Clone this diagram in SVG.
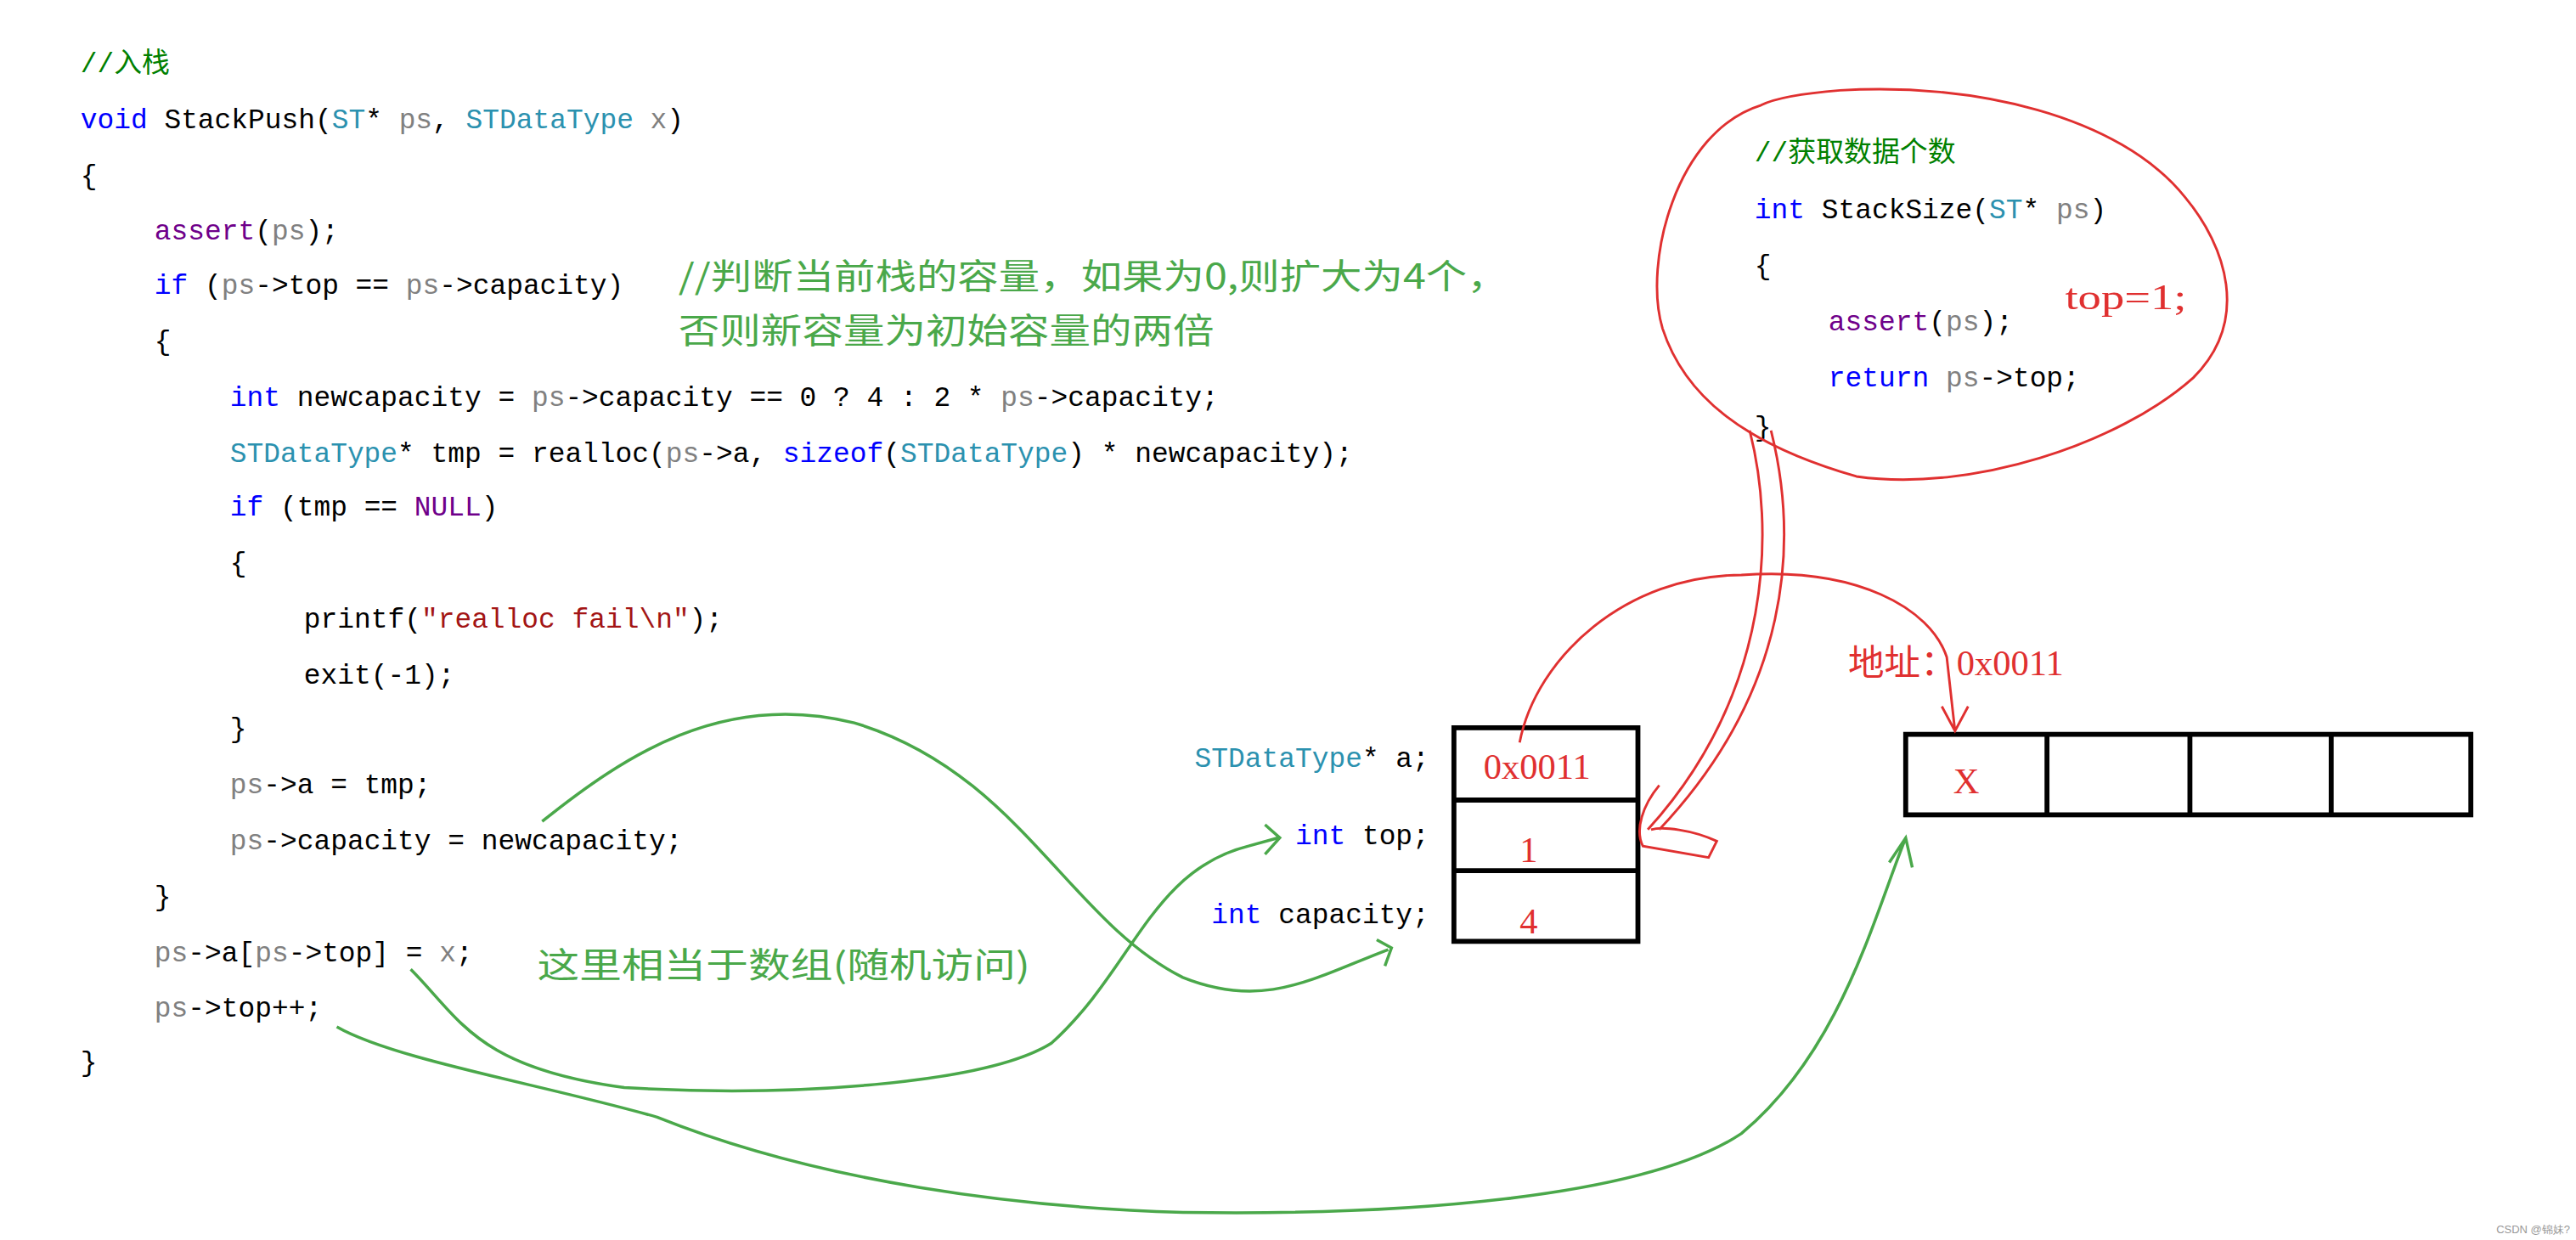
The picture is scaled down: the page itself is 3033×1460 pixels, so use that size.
<svg xmlns="http://www.w3.org/2000/svg" width="3033" height="1460" viewBox="0 0 3033 1460">
<style>
.c{font-family:"Liberation Mono","Noto Sans CJK SC",monospace;font-size:17px;fill:#000;white-space:pre}
.k{fill:#0000ff}.t{fill:#2b91af}.g{fill:#808080}.p{fill:#6f008a}.s{fill:#a31515}.cm{fill:#008000}
.cn{font-family:"Noto Sans CJK SC",sans-serif;font-size:21px;fill:#4aa84a}
.r{font-family:"Liberation Serif","Noto Sans CJK SC",serif;fill:#e03030}
.box{fill:none;stroke:#000;stroke-width:3}
.rl{fill:none;stroke:#e03030;stroke-width:1.5}
.gl{fill:none;stroke:#4aa84a;stroke-width:1.8}
</style>
<rect width="3033" height="1460" fill="#fff"/>
<g transform="scale(1.9343)">
<g id="code" class="c" xml:space="preserve">
<text x="49" y="44" class="cm">//入栈</text>
<text x="49" y="78"><tspan class="k">void</tspan> StackPush(<tspan class="t">ST</tspan>* <tspan class="g">ps</tspan>, <tspan class="t">STDataType</tspan> <tspan class="g">x</tspan>)</text>
<text x="49" y="112">{</text>
<text x="94" y="146"><tspan class="p">assert</tspan>(<tspan class="g">ps</tspan>);</text>
<text x="94" y="179"><tspan class="k">if</tspan> (<tspan class="g">ps</tspan>->top == <tspan class="g">ps</tspan>->capacity)</text>
<text x="94" y="213">{</text>
<text x="140" y="247"><tspan class="k">int</tspan> newcapacity = <tspan class="g">ps</tspan>->capacity == 0 ? 4 : 2 * <tspan class="g">ps</tspan>->capacity;</text>
<text x="140" y="281"><tspan class="t">STDataType</tspan>* tmp = realloc(<tspan class="g">ps</tspan>->a, <tspan class="k">sizeof</tspan>(<tspan class="t">STDataType</tspan>) * newcapacity);</text>
<text x="140" y="314"><tspan class="k">if</tspan> (tmp == <tspan class="p">NULL</tspan>)</text>
<text x="140" y="348">{</text>
<text x="185" y="382">printf(<tspan class="s">"realloc fail\n"</tspan>);</text>
<text x="185" y="416">exit(-1);</text>
<text x="140" y="449">}</text>
<text x="140" y="483"><tspan class="g">ps</tspan>->a = tmp;</text>
<text x="140" y="517"><tspan class="g">ps</tspan>->capacity = newcapacity;</text>
<text x="94" y="551">}</text>
<text x="94" y="585"><tspan class="g">ps</tspan>->a[<tspan class="g">ps</tspan>->top] = <tspan class="g">x</tspan>;</text>
<text x="94" y="619"><tspan class="g">ps</tspan>->top++;</text>
<text x="49" y="652">}</text>
</g>
<g id="comment1">
<text class="cn" x="413" y="176" textLength="505" lengthAdjust="spacingAndGlyphs">//判断当前栈的容量，如果为0,则扩大为4个，</text>
<text class="cn" x="413" y="209" textLength="326" lengthAdjust="spacingAndGlyphs">否则新容量为初始容量的两倍</text>
</g>
<g id="comment2"><text class="cn" x="327" y="595" textLength="300" lengthAdjust="spacingAndGlyphs">这里相当于数组(随机访问)</text></g>
<g id="stacksize" class="c" xml:space="preserve">
<text x="1068" y="98" class="cm">//获取数据个数</text>
<text x="1068" y="133"><tspan class="k">int</tspan> StackSize(<tspan class="t">ST</tspan>* <tspan class="g">ps</tspan>)</text>
<text x="1068" y="167">{</text>
<text x="1113" y="201"><tspan class="p">assert</tspan>(<tspan class="g">ps</tspan>);</text>
<text x="1113" y="235"><tspan class="k">return</tspan> <tspan class="g">ps</tspan>->top;</text>
<text x="1068" y="265">}</text>
<text class="r" x="1257" y="188" font-size="22" textLength="74" lengthAdjust="spacingAndGlyphs">top=1;</text>
</g>
<g id="struct">
<text class="c" x="870" y="467" text-anchor="end" xml:space="preserve"><tspan class="t">STDataType</tspan>* a;</text>
<text class="c" x="870" y="514" text-anchor="end" xml:space="preserve"><tspan class="k">int</tspan> top;</text>
<text class="c" x="870" y="562" text-anchor="end" xml:space="preserve"><tspan class="k">int</tspan> capacity;</text>
<rect class="box" x="885" y="443" width="112" height="130"/>
<line class="box" x1="885" y1="487" x2="997" y2="487"/>
<line class="box" x1="885" y1="530" x2="997" y2="530"/>
<text class="r" x="903" y="474" font-size="22">0x0011</text>
<text class="r" x="925" y="525" font-size="22">1</text>
<text class="r" x="925" y="568" font-size="22">4</text>
</g>
<g id="array">
<rect class="box" x="1160" y="447" width="344" height="49"/>
<line class="box" x1="1246" y1="447" x2="1246" y2="496"/>
<line class="box" x1="1333" y1="447" x2="1333" y2="496"/>
<line class="box" x1="1419" y1="447" x2="1419" y2="496"/>
<text class="r" x="1189" y="483" font-size="22">X</text>
<text class="r" x="1125" y="411" font-size="22">地址：0x0011</text>
</g>
<g id="connectors">
<path class="rl" d="M1072,64 C1020,80 1000,160 1012,200 C1025,240 1060,270 1130,290 C1200,300 1290,270 1335,230 C1370,195 1355,150 1330,120 C1290,70 1200,50 1120,55 C1095,57 1080,60 1072,64 Z"/>
<path class="rl" d="M1065,262 C1080,320 1080,420 1003,505 M1078,262 C1095,330 1090,420 1010,505 M1010,478 C1000,490 995,505 1000,515 L1040,522 L1045,512 C1030,505 1012,503 1005,505"/>
<path class="rl" d="M925,452 C935,400 990,350 1060,350 C1130,345 1175,370 1185,400 L1190,445 M1182,430 L1190,445 L1198,430"/>
<path class="gl" d="M330,500 C380,460 440,420 520,440 C620,470 650,560 720,595 C770,615 800,595 845,578 M838,572 L847,577 L843,588"/>
<path class="gl" d="M250,590 C280,620 290,650 380,662 C480,668 600,660 640,635 C690,590 700,530 760,515 L778,510 M770,502 L779,510 L770,520"/>
<path class="gl" d="M205,625 C240,645 330,660 400,680 C500,720 620,735 720,738 C850,740 1000,730 1060,690 C1120,640 1140,560 1160,510 M1150,525 L1160,510 L1164,528"/>
</g>
</g>
<text x="3026" y="1452" text-anchor="end" font-family="Liberation Sans,sans-serif" font-size="13" fill="#999">CSDN @锦妹?</text>
</svg>
